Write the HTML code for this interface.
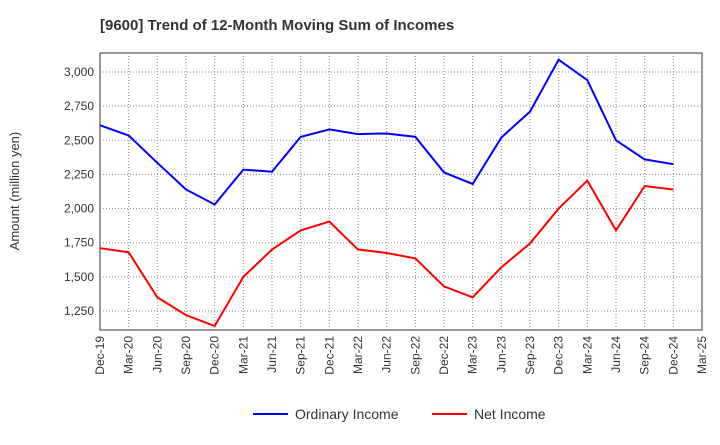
<!DOCTYPE html>
<html><head><meta charset="utf-8"><style>
body{margin:0;background:#fff;font-family:"Liberation Sans",sans-serif}
svg text{font-family:"Liberation Sans",sans-serif}
</style></head><body>
<svg id="chart" width="720" height="440">
<text x="100" y="30" font-size="15" font-weight="bold" fill="#333">[9600]  Trend of 12-Month Moving Sum of Incomes</text>
<text transform="translate(19,191) rotate(-90)" text-anchor="middle" font-size="13" fill="#333">Amount (million yen)</text>
<g id="grid"></g><g id="axes"></g><g id="series"></g>
<g>
<line x1="253" y1="414" x2="288" y2="414" stroke="#0000ff" stroke-width="2"/>
<text x="295" y="419" font-size="14" fill="#333">Ordinary Income</text>
<line x1="432" y1="414" x2="467" y2="414" stroke="#ff0000" stroke-width="2"/>
<text x="474" y="419" font-size="14" fill="#333">Net Income</text>
</g>
</svg>
<script>
const categories=["Dec-19","Mar-20","Jun-20","Sep-20","Dec-20","Mar-21","Jun-21","Sep-21","Dec-21","Mar-22","Jun-22","Sep-22","Dec-22","Mar-23","Jun-23","Sep-23","Dec-23","Mar-24","Jun-24","Sep-24","Dec-24","Mar-25"];
const ordinaryIncome=[2610,2535,2335,2140,2030,2285,2270,2525,2580,2545,2550,2525,2265,2180,2520,2710,3090,2940,2500,2360,2325];
const netIncome=[1710,1680,1350,1220,1140,1500,1700,1840,1905,1700,1675,1635,1430,1350,1570,1745,2000,2205,1840,2165,2140];
const yTicks=[1250,1500,1750,2000,2250,2500,2750,3000];
const L=100,R=702,T=53,B=330,yMin=1111,yMax=3139;
const x=i=>L+i*(R-L)/(categories.length-1);
const y=v=>B-(v-yMin)/(yMax-yMin)*(B-T);
const NS="http://www.w3.org/2000/svg";
function mk(tag,attrs,parent){const e=document.createElementNS(NS,tag);for(const k in attrs)e.setAttribute(k,attrs[k]);parent.appendChild(e);return e;}
const grid=document.getElementById('grid'),axes=document.getElementById('axes'),series=document.getElementById('series');
const bg=mk('rect',{x:L,y:T,width:R-L,height:B-T,fill:'#fff',stroke:'#333'},grid);


categories.forEach((c,i)=>{
 if(i>0&&i<categories.length-1)mk('line',{x1:x(i),x2:x(i),y1:T,y2:B,stroke:'#888','stroke-dasharray':'1,2'},grid);
 const t=mk('text',{transform:`translate(${x(i)+4},${B+6}) rotate(-90)`,'text-anchor':'end','font-size':'12',fill:'#333'},axes);
 t.textContent=c;
 
 
});
yTicks.forEach(v=>{
 mk('line',{x1:L,x2:R,y1:y(v),y2:y(v),stroke:'#888','stroke-dasharray':'1,2'},grid);
 const t=mk('text',{x:L-6,y:y(v)+4,'text-anchor':'end','font-size':'12',fill:'#333'},axes);
 t.textContent=v.toLocaleString('en-US');
 
 
});
function line(data,color,name){
 const p=mk('polyline',{points:data.map((v,i)=>x(i)+','+y(v)).join(' '),fill:'none',stroke:color,'stroke-width':2},series);
 
 
}
line(ordinaryIncome,'#0000ff','ordinary-income-line');
line(netIncome,'#ff0000','net-income-line');
</script>
</body></html>
